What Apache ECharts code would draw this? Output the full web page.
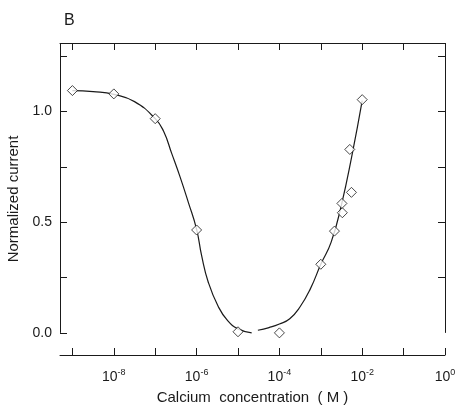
<!DOCTYPE html>
<html>
<head>
<meta charset="utf-8">
<script src="https://cdn.jsdelivr.net/npm/echarts@6/dist/echarts.min.js"></script>
<style>
  html, body { margin: 0; padding: 0; background: #fff; }
  #chart { width: 458px; height: 405px; }
</style>
</head>
<body>
<div id="chart"></div>
<script>
// measured points: log10 of calcium concentration (M) and normalized current
const pointLogCa = [-9, -8, -7, -6, -5, -4, -3, -2.67, -2.48, -2.49, -2.26, -2.3, -2.0];
const pointValue = [1.095, 1.08, 0.968, 0.465, 0.005, 0.0, 0.31, 0.46, 0.543, 0.585, 0.635, 0.829, 1.054];

// fitted curve (two pieces, gap near 3e-5 M)
const curveLeftLog = [-9, -8.5, -8, -7.5, -7, -6.8, -6.6, -6.4, -6.2, -6.0, -5.88, -5.72, -5.48, -5.25, -5.0, -4.67];
const curveLeftVal = [1.095, 1.09, 1.078, 1.045, 0.968, 0.912, 0.81, 0.705, 0.59, 0.468, 0.35, 0.23, 0.12, 0.055, 0.018, 0.0];
const curveRightLog = [-4.52, -4.25, -4.0, -3.75, -3.5, -3.25, -3.0, -2.75, -2.5, -2.25, -2.0];
const curveRightVal = [0.012, 0.024, 0.04, 0.064, 0.118, 0.2, 0.31, 0.41, 0.58, 0.8, 1.05];

const xTicks = [-9, -8, -7, -6, -5, -4, -3, -2, -1, 0];
const xLabels = [-8, -6, -4, -2, 0];
const yTicks = [0, 0.25, 0.5, 0.75, 1.0, 1.25];
const yLabels = [0, 0.5, 1.0];

const X_MIN = -9.3, X_MAX = 0;
const Y_MIN = -0.1, Y_MAX = 1.31;

const ink = '#1a1a1a';
const font = '"Liberation Sans", Arial, sans-serif';

let points = pointLogCa.map((x, i) => [x, pointValue[i]]);
let curve = curveLeftLog.map((x, i) => [x, curveLeftVal[i]])
  .concat([[-4.6, null]])
  .concat(curveRightLog.map((x, i) => [x, curveRightVal[i]]));

const chart = echarts.init(document.getElementById('chart'));
chart.setOption({
  animation: false,
  backgroundColor: '#fff',
  textStyle: { fontFamily: font, color: ink },
  title: {
    text: 'B',
    left: 59,
    top: 8,
    textStyle: { fontFamily: font, fontSize: 16, fontWeight: 'normal', color: ink }
  },
  grid: { left: 60, right: 13, top: 43, bottom: 50, outerBoundsMode: 'none', containLabel: false },
  xAxis: [
    {
      type: 'value',
      min: X_MIN,
      max: X_MAX,
      position: 'bottom',
      name: 'Calcium  concentration  ( M )',
      nameLocation: 'middle',
      nameGap: 35,
      nameTextStyle: { fontFamily: font, fontSize: 15, color: ink },
      axisLine: { show: true, onZero: false, lineStyle: { color: ink, width: 1 } },
      axisTick: { show: true, inside: true, length: 7, customValues: xTicks, lineStyle: { color: ink } },
      axisLabel: {
        customValues: xLabels,
        margin: 13,
        formatter: v => '{b|10}{s|' + v + '}',
        rich: {
          b: { fontFamily: font, fontSize: 14, color: ink },
          s: { fontFamily: font, fontSize: 9, color: ink, verticalAlign: 'top', padding: [0, 0, 9, 0] }
        }
      },
      splitLine: { show: false }
    },
    {
      type: 'value',
      min: X_MIN,
      max: X_MAX,
      position: 'top',
      axisLine: { show: true, onZero: false, lineStyle: { color: ink, width: 1 } },
      axisTick: { show: true, inside: true, length: 7, customValues: xTicks.slice(0, 9), lineStyle: { color: ink } },
      axisLabel: { show: false },
      splitLine: { show: false }
    }
  ],
  yAxis: [
    {
      type: 'value',
      min: Y_MIN,
      max: Y_MAX,
      position: 'left',
      name: 'Normalized current',
      nameLocation: 'middle',
      nameGap: 34,
      nameTextStyle: { fontFamily: font, fontSize: 15, color: ink },
      axisLine: { show: false, onZero: false },
      axisTick: { show: true, inside: true, length: 7, customValues: yTicks, lineStyle: { color: ink } },
      axisLabel: {
        customValues: yLabels,
        margin: 8,
        fontFamily: font,
        fontSize: 14,
        color: ink,
        formatter: v => v.toFixed(1)
      },
      splitLine: { show: false }
    },
    {
      type: 'value',
      min: Y_MIN,
      max: Y_MAX,
      position: 'right',
      axisLine: { show: false, onZero: false },
      axisTick: { show: true, inside: true, length: 7, customValues: yTicks.slice(1), lineStyle: { color: ink } },
      axisLabel: { show: false },
      splitLine: { show: false }
    }
  ],
  series: [
    {
      name: 'fit',
      type: 'line',
      data: curve,
      smooth: 0.5,
      connectNulls: false,
      showSymbol: false,
      symbol: 'none',
      lineStyle: { color: ink, width: 1.2 },
      markLine: {
        silent: true,
        symbol: 'none',
        label: { show: false },
        lineStyle: { color: ink, width: 1, type: 'solid' },
        data: [
          [{ coord: [X_MIN, 0] }, { coord: [X_MIN, Y_MAX] }],
          [{ coord: [X_MAX, 0] }, { coord: [X_MAX, Y_MAX] }]
        ]
      },
      z: 2
    },
    {
      name: 'data',
      type: 'scatter',
      data: points,
      symbol: 'diamond',
      symbolSize: [10, 10],
      itemStyle: { color: '#fff', borderColor: ink, borderWidth: 1 },
      z: 3
    }
  ]
});
</script>
</body>
</html>
